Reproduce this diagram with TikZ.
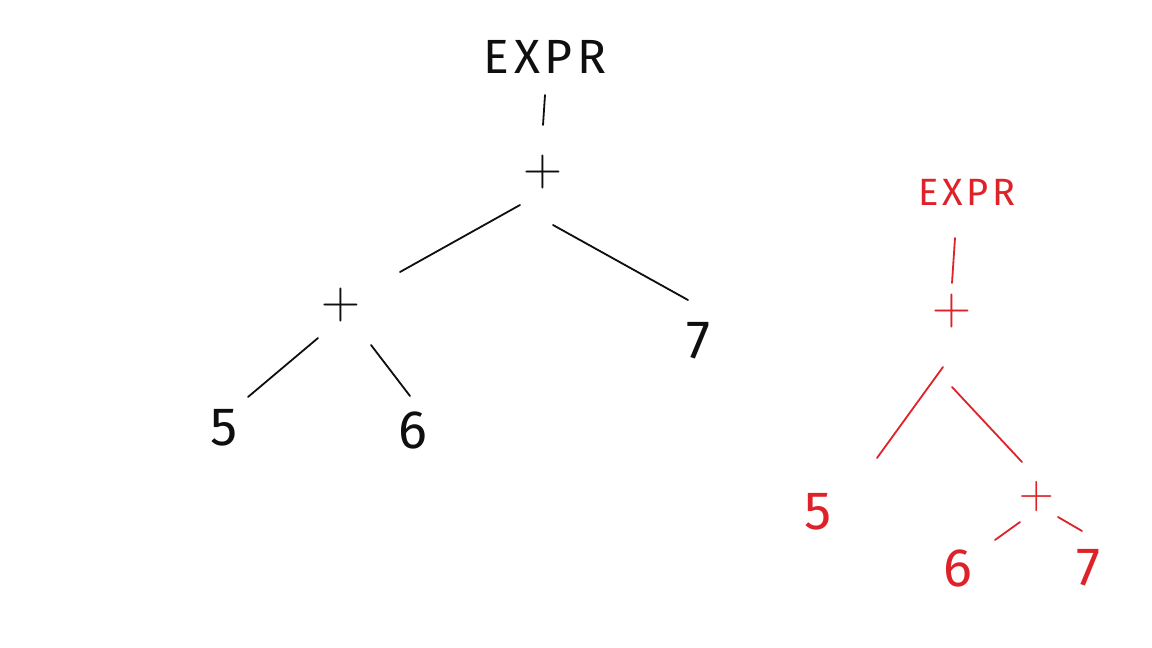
\documentclass[tikz,border=0pt]{standalone}
\usepackage{fontspec}
\newfontfamily\hand{Fira Sans}

\definecolor{pen}{RGB}{15,15,15}
\definecolor{redpen}{RGB}{222,34,42}

\begin{document}
\begin{tikzpicture}[
    x=1pt, y=-1pt,
    root/.style={inner sep=0pt, font=\hand\fontsize{48}{52}\selectfont\addfontfeature{LetterSpace=10}},
    sym/.style={inner sep=0pt, font=\hand\fontsize{54}{60}\selectfont},
    op/.style={inner sep=0pt, font=\rmfamily\fontsize{54}{58}\selectfont},
    edge/.style={line width=1.8pt, line cap=round},
]
\useasboundingbox[fill=white] (0,0) rectangle (1152,648);

% --- left tree: (5 + 6) + 7 ---
\begin{scope}[pen]
\node[root] (ex1) at (545,57)  {EXPR};
\node[op]   (p1)  at (543,172) {+};
\node[op]   (p2)  at (341,305) {+};
\node[sym]  (n7)  at (698,341) {7};
\node[sym]  (n5)  at (224,428) {5};
\node[sym]  (n6)  at (413,430) {6};

\draw[edge] ([shift={(0,38)}]ex1.center)  -- ([shift={(0,-47)}]p1.center);
\draw[edge] ([shift={(-23,33)}]p1.center) -- ([shift={(59,-33)}]p2.center);
\draw[edge] ([shift={(10,53)}]p1.center)  -- ([shift={(-10,-41)}]n7.center);
\draw[edge] ([shift={(-23,33)}]p2.center) -- ([shift={(24,-31)}]n5.center);
\draw[edge] ([shift={(30,40)}]p2.center)  -- ([shift={(-3,-34)}]n6.center);
\end{scope}

% --- right tree: 5 + (6 + 7) ---
\begin{scope}[redpen]
\node[root, font=\hand\fontsize{38}{42}\selectfont\addfontfeature{LetterSpace=10}]
            (ex2) at (967,192) {EXPR};
\node[op]   (p3)  at (952,311) {+};
\node[sym]  (r5)  at (818,512) {5};
\node[op, font=\rmfamily\fontsize{48}{52}\selectfont]
            (p4)  at (1037,497) {+};
\node[sym]  (r6)  at (958,568) {6};
\node[sym]  (r7)  at (1088,568) {7};

\draw[edge] ([shift={(-12,46)}]ex2.center) -- ([shift={(0,-28)}]p3.center);
\draw[edge] ([shift={(-9,56)}]p3.center)   -- ([shift={(59,-54)}]r5.center);
\draw[edge] ([shift={(0,76)}]p3.center)    -- ([shift={(-15,-35)}]p4.center);
\draw[edge] ([shift={(-17,25)}]p4.center)  -- ([shift={(37,-28)}]r6.center);
\draw[edge] ([shift={(21,20)}]p4.center)   -- ([shift={(-6,-37)}]r7.center);
\end{scope}
\end{tikzpicture}
\end{document}
